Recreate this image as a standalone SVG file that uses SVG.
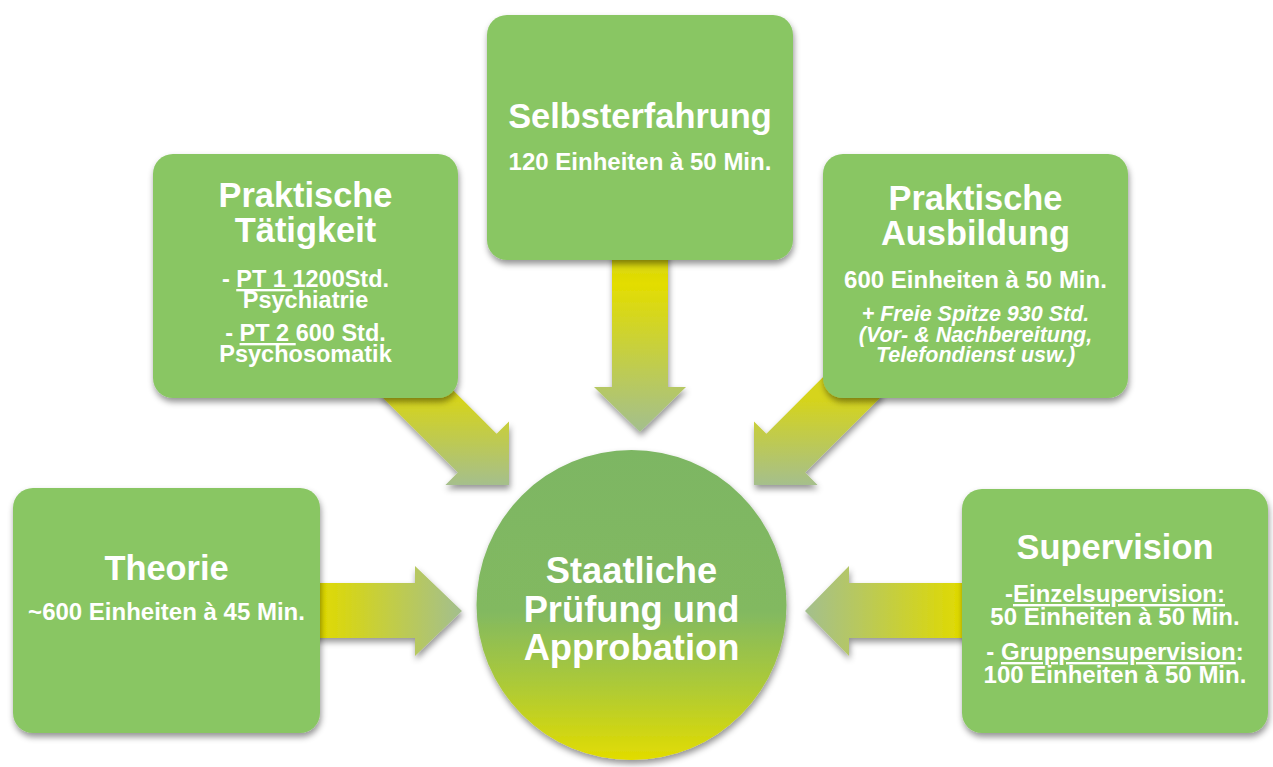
<svg xmlns="http://www.w3.org/2000/svg" width="1273" height="767" viewBox="0 0 1273 767">
<defs>
<filter id="sh" x="-20%" y="-20%" width="140%" height="140%">
<feDropShadow dx="1" dy="4" stdDeviation="3" flood-color="#000" flood-opacity="0.42"/>
</filter>
<linearGradient id="gCircle" x1="0" y1="0" x2="0" y2="1">
<stop offset="0" stop-color="#7db663"/>
<stop offset="0.52" stop-color="#82b961"/>
<stop offset="0.76" stop-color="#adca37"/>
<stop offset="1" stop-color="#e2dc00"/>
</linearGradient>
<linearGradient id="gTop" gradientUnits="userSpaceOnUse" x1="0" y1="258" x2="0" y2="432">
<stop offset="0" stop-color="#d6d510"/>
<stop offset="0.15" stop-color="#e3dd00"/>
<stop offset="1" stop-color="#a3bf8e"/>
</linearGradient>
<linearGradient id="gLeft" gradientUnits="userSpaceOnUse" x1="320" y1="0" x2="462" y2="0">
<stop offset="0" stop-color="#e0da00"/>
<stop offset="1" stop-color="#a3bf8e"/>
</linearGradient>
<linearGradient id="gRight" gradientUnits="userSpaceOnUse" x1="962" y1="0" x2="805" y2="0">
<stop offset="0" stop-color="#e0da00"/>
<stop offset="1" stop-color="#a3bf8e"/>
</linearGradient>
<linearGradient id="gDiag" gradientUnits="userSpaceOnUse" x1="0" y1="398" x2="0" y2="485">
<stop offset="0" stop-color="#d6d41a"/>
<stop offset="1" stop-color="#a5bf8c"/>
</linearGradient>
</defs>
<style>
.box{fill:#89c664;filter:url(#sh)}
.t{font-family:"Liberation Sans",Arial,sans-serif;font-weight:bold;fill:#fff;text-anchor:middle}
.h{font-size:34.4px}
.s{font-size:24px}
.s2{font-size:23.5px}
.i{font-size:21.5px;font-style:italic}
.c{font-size:36.3px}
.u{text-decoration:underline}
.arr{filter:url(#sh)}
</style>
<rect width="1273" height="767" fill="#fff"/>
<g id="connectors">
<polygon class="arr" fill="url(#gTop)" points="612,250 668,250 668,387 686,387 640,432 594,387 612,387"/>
<polygon class="arr" fill="url(#gLeft)" points="310,583 415,583 415,566 462,611 415,656 415,638 310,638"/>
<polygon class="arr" fill="url(#gRight)" points="972,583 849,583 849,566 805,611 849,656 849,638 972,638"/>
<polygon class="arr" fill="url(#gDiag)" points="418.9,356 496.6,433.7 509,421.4 509,485 445.4,485 457.8,472.6 380,394.9"/>
<polygon class="arr" fill="url(#gDiag)" points="844.1,356 766.4,433.7 754,421.4 754,485 817.6,485 805.2,472.6 883,394.9"/>
</g>
<g id="node-selbsterfahrung">
<rect class="box" x="487" y="15" width="306" height="245" rx="20"/>
<text class="t h" x="640" y="128">Selbsterfahrung</text>
<text class="t s" x="640" y="170">120 Einheiten à 50 Min.</text>
</g>
<g id="node-praktische-taetigkeit">
<rect class="box" x="153" y="154" width="305" height="244" rx="20"/>
<text class="t h" x="305.5" y="207">Praktische</text>
<text class="t h" x="305.5" y="242">Tätigkeit</text>
<text class="t s2" x="305.5" y="287">- <tspan class="u">PT 1 </tspan>1200Std.</text>
<text class="t s2" x="305.5" y="308">Psychiatrie</text>
<text class="t s2" x="305.5" y="341">- <tspan class="u">PT 2 </tspan>600 Std.</text>
<text class="t s2" x="305.5" y="362">Psychosomatik</text>
</g>
<g id="node-praktische-ausbildung">
<rect class="box" x="823" y="154" width="305" height="244" rx="20"/>
<text class="t h" x="975.5" y="210">Praktische</text>
<text class="t h" x="975.5" y="245">Ausbildung</text>
<text class="t s" x="975.5" y="288">600 Einheiten à 50 Min.</text>
<text class="t i" x="975.5" y="321">+ Freie Spitze 930 Std.</text>
<text class="t i" x="975.5" y="342">(Vor- &amp; Nachbereitung,</text>
<text class="t i" x="975.5" y="362">Telefondienst usw.)</text>
</g>
<g id="node-theorie">
<rect class="box" x="13" y="488" width="307" height="245" rx="20"/>
<text class="t h" x="166.5" y="580">Theorie</text>
<text class="t s" x="166.5" y="620">~600 Einheiten à 45 Min.</text>
</g>
<g id="node-supervision">
<rect class="box" x="962" y="489" width="306" height="244" rx="20"/>
<text class="t h" x="1115" y="559">Supervision</text>
<text class="t s" x="1115" y="602">-<tspan class="u">Einzelsupervision:</tspan></text>
<text class="t s" x="1115" y="625">50 Einheiten à 50 Min.</text>
<text class="t s" x="1115" y="660">- <tspan class="u">Gruppensupervision</tspan>:</text>
<text class="t s" x="1115" y="683">100 Einheiten à 50 Min.</text>
</g>
<g id="node-pruefung">
<circle cx="631.5" cy="605" r="155" fill="url(#gCircle)" filter="url(#sh)"/>
<text class="t c" x="631.5" y="583">Staatliche</text>
<text class="t c" x="631.5" y="622">Prüfung und</text>
<text class="t c" x="631.5" y="660">Approbation</text>
</g>
</svg>
